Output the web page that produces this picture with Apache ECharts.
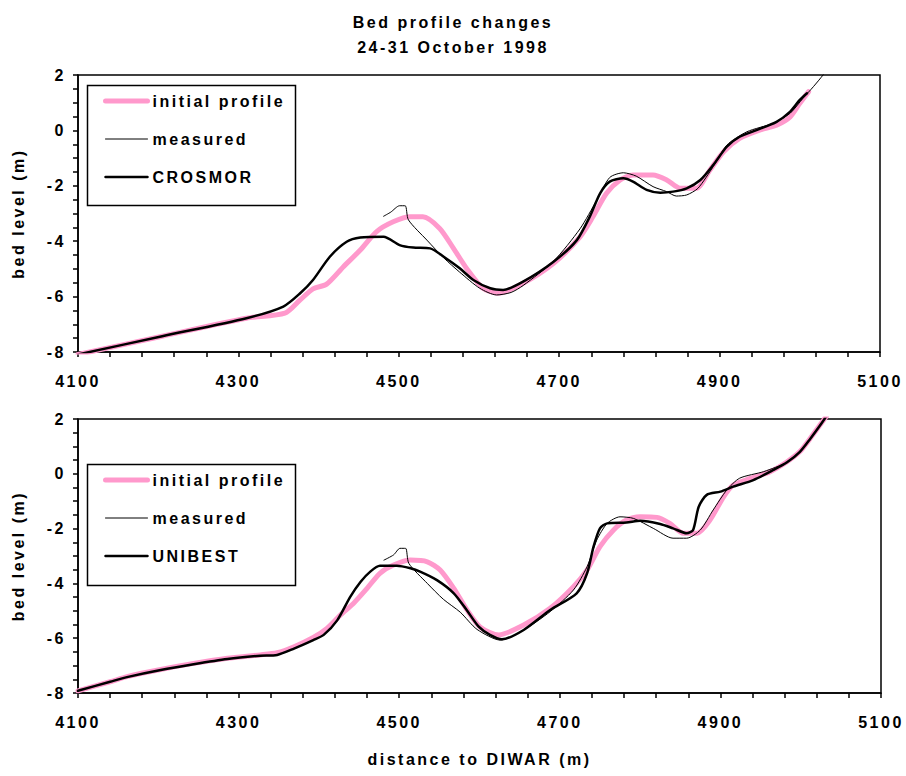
<!DOCTYPE html>
<html>
<head>
<meta charset="utf-8">
<script src="https://cdn.jsdelivr.net/npm/echarts@6/dist/echarts.min.js"></script>
<style>
  html, body { margin: 0; padding: 0; background: #fff; }
  #chart { width: 906px; height: 776px; }
  /* Excel style wide letters */
  #chart text { letter-spacing: 2.5px; }
</style>
</head>
<body>
<div id="chart"></div>
<script>
// top panel: CROSMOR
const initialTop = [[4100,-8.09],[4205,-7.43],[4310,-6.78],[4358,-6.6],[4377,-6.12],[4393,-5.72],[4410,-5.55],[4431,-4.92],[4452,-4.32],[4472,-3.66],[4493,-3.3],[4514,-3.12],[4530,-3.12],[4551,-3.54],[4568,-4.25],[4585,-5.0],[4605,-5.7],[4624,-5.88],[4655,-5.52],[4693,-4.8],[4726,-3.84],[4742,-3.12],[4759,-2.27],[4776,-1.79],[4792,-1.61],[4817,-1.61],[4834,-1.79],[4851,-2.09],[4871,-2.09],[4888,-1.43],[4905,-0.77],[4925,-0.29],[4950,0.01],[4971,0.19],[4988,0.49],[5000,0.98],[5011,1.4]];
const measuredTop = [[4481,-3.1],[4490,-2.95],[4501,-2.72],[4508,-2.72],[4512,-3.23],[4535,-3.96],[4556,-4.6],[4576,-5.12],[4601,-5.7],[4622,-5.94],[4640,-5.85],[4655,-5.6],[4693,-4.72],[4726,-3.55],[4747,-2.51],[4763,-1.7],[4780,-1.53],[4796,-1.65],[4817,-2.03],[4834,-2.21],[4846,-2.37],[4859,-2.33],[4873,-2.09],[4892,-1.31],[4909,-0.53],[4934,-0.05],[4967,0.26],[4988,0.62],[5004,1.16],[5017,1.58],[5029,2.0],[5035,2.25]];
const crosmor = [[4100,-8.09],[4205,-7.43],[4310,-6.78],[4356,-6.36],[4377,-5.88],[4393,-5.4],[4414,-4.56],[4435,-4.02],[4452,-3.87],[4481,-3.84],[4501,-4.14],[4518,-4.23],[4539,-4.26],[4556,-4.56],[4576,-4.98],[4593,-5.4],[4614,-5.7],[4630,-5.76],[4655,-5.46],[4693,-4.74],[4722,-3.96],[4738,-3.12],[4751,-2.27],[4763,-1.85],[4780,-1.73],[4792,-1.85],[4809,-2.15],[4826,-2.25],[4842,-2.21],[4859,-2.09],[4876,-1.79],[4892,-1.25],[4909,-0.59],[4925,-0.23],[4946,0.01],[4971,0.31],[4988,0.68],[5000,1.1],[5009,1.34]];

// bottom panel: UNIBEST
const initialBottom = [[4100,-7.92],[4140,-7.59],[4161,-7.4],[4203,-7.14],[4244,-6.92],[4286,-6.73],[4327,-6.61],[4348,-6.53],[4369,-6.31],[4393,-5.97],[4410,-5.64],[4427,-5.15],[4443,-4.73],[4460,-4.18],[4476,-3.63],[4493,-3.33],[4514,-3.15],[4535,-3.21],[4551,-3.51],[4568,-4.18],[4584,-4.95],[4601,-5.6],[4624,-5.88],[4655,-5.52],[4688,-4.91],[4717,-4.12],[4734,-3.51],[4750,-2.66],[4767,-2.05],[4783,-1.69],[4800,-1.57],[4821,-1.59],[4837,-1.81],[4854,-2.17],[4871,-2.17],[4887,-1.69],[4904,-0.84],[4916,-0.41],[4937,-0.17],[4962,0.08],[4983,0.44],[4999,0.81],[5012,1.3],[5024,1.78],[5032,2.1]];
const measuredBottom = [[4481,-3.15],[4493,-2.96],[4501,-2.72],[4508,-2.72],[4512,-3.27],[4535,-4.0],[4555,-4.58],[4576,-5.05],[4597,-5.68],[4626,-6.07],[4655,-5.7],[4688,-5.03],[4717,-4.24],[4734,-3.39],[4746,-2.42],[4759,-1.81],[4775,-1.57],[4792,-1.63],[4817,-2.0],[4841,-2.35],[4858,-2.35],[4875,-2.05],[4891,-1.32],[4908,-0.59],[4924,-0.16],[4954,0.08],[4983,0.42],[4999,0.8],[5012,1.28],[5024,1.76],[5032,2.1]];
const unibest = [[4100,-7.92],[4140,-7.59],[4161,-7.42],[4203,-7.16],[4244,-6.95],[4286,-6.76],[4327,-6.64],[4348,-6.61],[4369,-6.38],[4393,-6.07],[4406,-5.88],[4423,-5.34],[4439,-4.49],[4452,-3.94],[4464,-3.57],[4476,-3.36],[4497,-3.36],[4514,-3.45],[4526,-3.57],[4547,-3.88],[4568,-4.36],[4584,-4.97],[4599,-5.58],[4613,-5.88],[4628,-6.04],[4655,-5.7],[4688,-4.97],[4721,-4.36],[4734,-3.63],[4742,-2.66],[4750,-1.99],[4759,-1.81],[4783,-1.78],[4800,-1.71],[4825,-1.83],[4841,-1.99],[4858,-2.17],[4866,-2.05],[4873,-1.2],[4883,-0.77],[4900,-0.65],[4916,-0.47],[4941,-0.23],[4966,0.14],[4983,0.42],[4999,0.8],[5012,1.28],[5024,1.76],[5032,2.1]];

const xMin = 4100, xMax = 5100, xStep = 40, xLabelStep = 200;
const yMin = -8, yMax = 2, yStep = 0.5, yLabelStep = 2;

const PINK = '#ff99cc';
const W_INIT = 5, W_MEAS = 1, W_MODEL = 2.5;
const FONT = { fontFamily: 'Liberation Sans, Arial, sans-serif', fontWeight: 'bold', fontSize: 16, color: '#000' };

function xAxisOf(gridIndex, withName) {
  return {
    type: 'value', gridIndex: gridIndex, min: xMin, max: xMax, interval: xStep,
    name: withName ? 'distance to DIWAR (m)' : '', nameLocation: 'middle', nameGap: 58,
    nameTextStyle: FONT,
    axisLine: { onZero: false, lineStyle: { color: '#000', width: 1.5 } },
    axisTick: { inside: false, length: 5, lineStyle: { color: '#000', width: 1.5 } },
    axisLabel: Object.assign({ margin: 21, formatter: v => ((v - xMin) % xLabelStep === 0 ? String(v) : '') }, FONT),
    splitLine: { show: false }
  };
}

function yAxisOf(gridIndex) {
  return {
    type: 'value', gridIndex: gridIndex, min: yMin, max: yMax, interval: yStep,
    name: 'bed level (m)', nameLocation: 'middle', nameGap: 52, nameRotate: 90,
    nameTextStyle: FONT,
    axisLine: { onZero: false, lineStyle: { color: '#000', width: 1.5 } },
    axisTick: { inside: false, length: 5, lineStyle: { color: '#000', width: 1.5 } },
    axisLabel: Object.assign({ margin: 12, formatter: v => (Math.abs(v % yLabelStep) < 1e-9 ? String(v) : '') }, FONT),
    splitLine: { show: false }
  };
}

function line(name, data, idx, color, width) {
  return {
    name: name, type: 'line', xAxisIndex: idx, yAxisIndex: idx, data: data,
    showSymbol: false, symbol: 'none', smooth: 0.25,
    clip: true, silent: true, animation: false,
    lineStyle: { color: color, width: width, join: 'round', cap: 'round' }, itemStyle: { color: color }
  };
}

function legendOf(top, modelName) {
  return {
    orient: 'vertical', left: 98, top: top, itemWidth: 42, itemHeight: 14, itemGap: 22,
    data: [
      { name: 'initial profile', lineStyle: { width: W_INIT, color: PINK } },
      { name: 'measured', lineStyle: { width: W_MEAS, color: '#000' } },
      { name: modelName, lineStyle: { width: W_MODEL, color: '#000' } }
    ],
    textStyle: FONT, selectedMode: false,
    itemStyle: { opacity: 0 }
  };
}

const chart = echarts.init(document.getElementById('chart'), null, { renderer: 'svg' });

chart.setOption({
  backgroundColor: '#fff',
  animation: false,
  title: {
    text: 'Bed profile changes\n24-31 October 1998',
    left: 'center', top: 5,
    textStyle: Object.assign({ lineHeight: 25 }, FONT)
  },
  grid: [
    { left: 78, top: 75, width: 802, height: 277, show: true, borderColor: '#000', borderWidth: 1.5 },
    { left: 78, top: 419, width: 803, height: 274, show: true, borderColor: '#000', borderWidth: 1.5 }
  ],
  xAxis: [xAxisOf(0, false), xAxisOf(1, true)],
  yAxis: [yAxisOf(0), yAxisOf(1)],
  legend: [legendOf(88, 'CROSMOR'), legendOf(467, 'UNIBEST')],
  graphic: [
    { type: 'rect', left: 85, top: 83, shape: { width: 208, height: 120 }, style: { fill: 'none', stroke: '#000', lineWidth: 1.5 }, z: 10 },
    { type: 'rect', left: 85, top: 462, shape: { width: 208, height: 121 }, style: { fill: 'none', stroke: '#000', lineWidth: 1.5 }, z: 10 }
  ],
  series: [
    line('initial profile', initialTop, 0, PINK, W_INIT),
    line('measured', measuredTop, 0, '#000', W_MEAS),
    line('CROSMOR', crosmor, 0, '#000', W_MODEL),
    line('initial profile', initialBottom, 1, PINK, W_INIT),
    line('measured', measuredBottom, 1, '#000', W_MEAS),
    line('UNIBEST', unibest, 1, '#000', W_MODEL)
  ]
});
</script>
</body>
</html>
